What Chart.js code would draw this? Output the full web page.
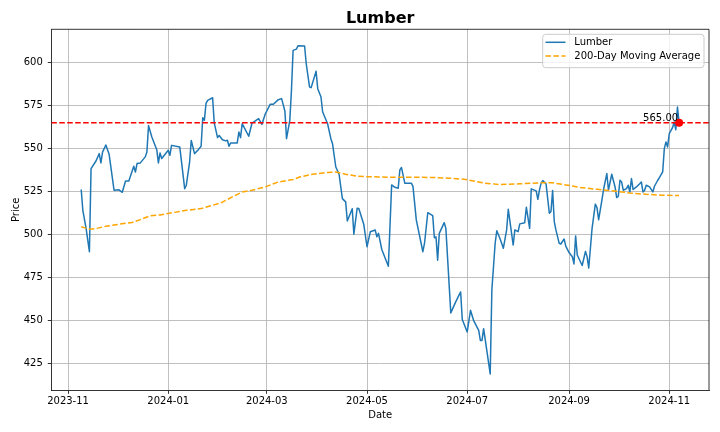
<!DOCTYPE html>
<html>
<head>
<meta charset="utf-8">
<script src="https://cdn.jsdelivr.net/npm/chart.js@4.4.1/dist/chart.umd.min.js"></script>
<style>
  html, body { margin: 0; padding: 0; background: #fff; }
  #wrap { width: 720px; height: 432px; }
</style>
</head>
<body>
<div id="wrap"><canvas id="c" width="720" height="432"></canvas></div>
<script>
const chartTitle = "Lumber";
const xAxisTitle = "Date";
const yAxisTitle = "Price";
const seriesName = "Lumber";
const maName = "200-Day Moving Average";
const currentPrice = 565.00;

const lumberDates = [
"2023-11-09","2023-11-10","2023-11-12","2023-11-14","2023-11-15","2023-11-18","2023-11-20","2023-11-21","2023-11-22","2023-11-24",
"2023-11-26","2023-11-29","2023-12-02","2023-12-04","2023-12-06","2023-12-08","2023-12-11","2023-12-12","2023-12-13","2023-12-15",
"2023-12-18","2023-12-19","2023-12-20","2023-12-22","2023-12-25","2023-12-26","2023-12-27","2023-12-28","2024-01-01","2024-01-02",
"2024-01-03","2024-01-08","2024-01-11","2024-01-12","2024-01-14","2024-01-15","2024-01-17","2024-01-19","2024-01-21","2024-01-22",
"2024-01-23","2024-01-24","2024-01-25","2024-01-28","2024-01-29","2024-01-31","2024-02-01","2024-02-03","2024-02-05","2024-02-06",
"2024-02-07","2024-02-08","2024-02-12","2024-02-13","2024-02-14","2024-02-15","2024-02-19","2024-02-21","2024-02-25","2024-02-27",
"2024-02-29","2024-03-03","2024-03-05","2024-03-08","2024-03-10","2024-03-12","2024-03-13","2024-03-15","2024-03-16","2024-03-17",
"2024-03-19","2024-03-20","2024-03-24","2024-03-25","2024-03-27","2024-03-28","2024-03-31","2024-04-01","2024-04-03","2024-04-04",
"2024-04-07","2024-04-09","2024-04-10","2024-04-12","2024-04-14","2024-04-16","2024-04-18","2024-04-19","2024-04-22","2024-04-23",
"2024-04-25","2024-04-26","2024-04-29","2024-05-01","2024-05-03","2024-05-06","2024-05-07","2024-05-08","2024-05-10","2024-05-14",
"2024-05-16","2024-05-18","2024-05-20","2024-05-21","2024-05-22","2024-05-24","2024-05-28","2024-05-29","2024-05-31","2024-06-04",
"2024-06-05","2024-06-07","2024-06-10","2024-06-11","2024-06-12","2024-06-13","2024-06-14","2024-06-17","2024-06-18","2024-06-21",
"2024-06-24","2024-06-27","2024-06-28","2024-07-01","2024-07-03","2024-07-05","2024-07-08","2024-07-09","2024-07-10","2024-07-11",
"2024-07-15","2024-07-16","2024-07-18","2024-07-19","2024-07-21","2024-07-23","2024-07-25","2024-07-26","2024-07-29","2024-07-30",
"2024-08-01","2024-08-02","2024-08-05","2024-08-06","2024-08-08","2024-08-09","2024-08-12","2024-08-13","2024-08-14","2024-08-15",
"2024-08-16","2024-08-18","2024-08-20","2024-08-21","2024-08-22","2024-08-23","2024-08-24","2024-08-26","2024-08-27","2024-08-29",
"2024-08-30","2024-09-01","2024-09-03","2024-09-04","2024-09-05","2024-09-06","2024-09-09","2024-09-11","2024-09-12","2024-09-13",
"2024-09-15","2024-09-17","2024-09-18","2024-09-19","2024-09-21","2024-09-22","2024-09-24","2024-09-25","2024-09-27","2024-09-29",
"2024-09-30","2024-10-01","2024-10-02","2024-10-03","2024-10-04","2024-10-06","2024-10-07","2024-10-08","2024-10-09","2024-10-10",
"2024-10-12","2024-10-14","2024-10-15","2024-10-16","2024-10-17","2024-10-18","2024-10-20","2024-10-22","2024-10-23","2024-10-25",
"2024-10-26","2024-10-28","2024-10-29","2024-10-30","2024-10-31","2024-11-01","2024-11-03","2024-11-04","2024-11-05","2024-11-06",
"2024-11-07"
];
const lumberPrices = [
526.2,514.1,503.5,490.0,538.4,542.8,547.1,541.7,548.0,552.1,
546.7,525.8,526.0,524.6,531.2,531.2,539.7,536.4,541.3,541.7,
545.2,548.0,563.4,556.8,549.4,541.7,547.5,544.3,549.1,546.1,
551.9,551.0,526.7,528.7,542.2,554.8,547.1,549.1,551.4,568.0,
566.5,576.4,578.1,579.6,565.0,556.4,557.6,555.2,554.5,554.9,
551.4,553.3,553.3,559.7,556.4,564.5,557.2,564.9,567.4,564.1,
570.0,575.8,575.8,578.5,579.1,571.9,555.8,566.5,583.9,607.2,
607.9,609.9,609.7,599.4,585.9,585.5,595.0,584.9,580.0,571.3,
564.5,555.8,552.9,539.3,535.1,520.9,519.0,507.9,515.0,500.2,
515.3,515.2,506.0,492.9,501.6,502.6,498.7,500.7,491.3,481.6,
528.9,527.5,527.0,537.6,539.0,529.9,529.9,527.9,508.5,490.0,
494.8,512.7,511.0,498.1,498.7,485.1,500.7,506.9,503.6,454.4,
460.8,466.6,450.5,443.3,455.9,449.7,444.2,438.4,438.4,445.2,
418.9,467.6,494.8,502.2,497.5,492.0,502.7,514.7,493.9,502.7,
501.7,506.2,506.9,515.9,503.6,526.6,525.4,520.5,526.0,529.9,
531.4,529.5,512.4,513.4,525.6,507.5,502.7,494.9,494.5,497.4,
493.3,489.5,487.1,482.9,499.2,488.1,482.0,490.2,487.0,480.5,
503.5,517.7,515.7,508.6,520.0,526.2,535.5,525.8,535.1,527.7,
521.5,522.3,531.6,530.6,525.8,526.7,528.7,524.8,532.6,526.2,
527.7,529.6,530.6,524.8,525.8,528.7,527.7,524.8,528.1,531.6,
533.1,536.4,550.0,553.9,551.0,558.7,562.2,565.5,561.0,574.2,
565.0
];

const maDates = [
"2023-11-09","2023-11-14","2023-11-18","2023-11-24","2023-12-02","2023-12-10","2023-12-15","2023-12-21","2023-12-27","2024-01-04",
"2024-01-12","2024-01-21","2024-01-28","2024-02-02","2024-02-09","2024-02-15","2024-02-21","2024-02-29","2024-03-08","2024-03-17",
"2024-03-21","2024-03-29","2024-04-06","2024-04-12","2024-04-18","2024-04-25","2024-05-01","2024-05-15","2024-05-29","2024-06-10",
"2024-06-20","2024-06-29","2024-07-11","2024-07-21","2024-08-02","2024-08-16","2024-08-22","2024-08-30","2024-09-08","2024-09-18",
"2024-09-28","2024-10-08","2024-10-18","2024-10-28","2024-11-07"
];
const maValues = [
504.5,503.1,503.5,504.8,506.0,507.0,508.7,510.9,511.4,512.8,
514.1,515.1,517.0,518.4,521.9,524.8,525.8,527.7,530.6,532.0,
533.5,535.1,536.0,536.4,535.1,533.9,533.7,533.3,533.4,533.2,
532.8,532.2,530.0,529.1,529.5,530.2,530.1,528.9,527.4,526.3,
525.4,524.2,523.4,522.9,522.7
];

const yTickValues = [425, 450, 475, 500, 525, 550, 575, 600];
const xTickDates = ["2023-11-01","2024-01-01","2024-03-01","2024-05-01","2024-07-01","2024-09-01","2024-11-01"];
const xTickLabels = ["2023-11","2024-01","2024-03","2024-05","2024-07","2024-09","2024-11"];

// ---- derived ----
const toMs = s => Date.parse(s);
const lumberPts = lumberDates.map((d, i) => ({ x: toMs(d), y: lumberPrices[i] }));
const maPts = maDates.map((d, i) => ({ x: toMs(d), y: maValues[i] }));
const allX = lumberPts.map(p => p.x).concat(maPts.map(p => p.x));
const allY = lumberPrices.concat(maValues, [currentPrice]);
const xLo = Math.min(...allX), xHi = Math.max(...allX);
const yLo = Math.min(...allY), yHi = Math.max(...allY);
const xMin = xLo - 0.05 * (xHi - xLo), xMax = xHi + 0.05 * (xHi - xLo);
const yMin = yLo - 0.05 * (yHi - yLo), yMax = yHi + 0.05 * (yHi - yLo);
const lastPt = lumberPts[lumberPts.length - 1];

const FONT = "'DejaVu Sans', 'Liberation Sans', sans-serif";
const BLUE = '#1f77b4', ORANGE = '#ffa500', RED = '#ff0000';
const DASH = [5.55, 2.4];

const decor = {
  id: 'decor',
  afterDraw(chart) {
    const ctx = chart.ctx, a = chart.chartArea;
    const xs = chart.scales.x, ys = chart.scales.y;
    ctx.save();
    // top/right spines
    ctx.strokeStyle = '#000'; ctx.lineWidth = 0.8;
    ctx.beginPath();
    ctx.moveTo(a.left, a.top); ctx.lineTo(a.right, a.top); ctx.lineTo(a.right, a.bottom);
    ctx.stroke();
    // current price label
    const px = xs.getPixelForValue(lastPt.x), py = ys.getPixelForValue(currentPrice);
    ctx.fillStyle = '#000';
    ctx.font = `10px ${FONT}`;
    ctx.textAlign = 'right'; ctx.textBaseline = 'alphabetic';
    ctx.fillText(currentPrice.toFixed(2), px - 1, py - 2.3);
    // title
    ctx.font = `bold 16px ${FONT}`;
    ctx.textAlign = 'center';
    ctx.fillText(chartTitle, (a.left + a.right) / 2, 23.3);
    // axis titles
    ctx.font = `10px ${FONT}`;
    ctx.textBaseline = 'middle';
    ctx.fillText(xAxisTitle, (a.left + a.right) / 2, 415);
    ctx.save();
    ctx.translate(16, (a.top + a.bottom) / 2);
    ctx.rotate(-Math.PI / 2);
    ctx.fillText(yAxisTitle, 0, 0);
    ctx.restore();
    // legend
    const lx = 542.7, ly = 34.3, lw = 161.3, lh = 33.4, r = 3;
    ctx.beginPath();
    ctx.moveTo(lx + r, ly); ctx.lineTo(lx + lw - r, ly); ctx.arcTo(lx + lw, ly, lx + lw, ly + r, r);
    ctx.lineTo(lx + lw, ly + lh - r); ctx.arcTo(lx + lw, ly + lh, lx + lw - r, ly + lh, r);
    ctx.lineTo(lx + r, ly + lh); ctx.arcTo(lx, ly + lh, lx, ly + lh - r, r);
    ctx.lineTo(lx, ly + r); ctx.arcTo(lx, ly, lx + r, ly, r);
    ctx.closePath();
    ctx.fillStyle = 'rgba(255,255,255,0.8)'; ctx.fill();
    ctx.strokeStyle = '#cccccc'; ctx.lineWidth = 1; ctx.stroke();
    const rows = [
      { label: seriesName, color: BLUE, dash: [], y: 42.3 },
      { label: maName, color: ORANGE, dash: DASH, y: 56.0 }
    ];
    rows.forEach(rw => {
      ctx.strokeStyle = rw.color; ctx.lineWidth = 1.5; ctx.setLineDash(rw.dash);
      ctx.beginPath(); ctx.moveTo(545.5, rw.y); ctx.lineTo(565.5, rw.y); ctx.stroke();
      ctx.setLineDash([]);
      ctx.fillStyle = '#000'; ctx.textAlign = 'left'; ctx.textBaseline = 'middle';
      ctx.font = `10px ${FONT}`;
      ctx.fillText(rw.label, 574.3, rw.y + 0.3);
    });
    ctx.restore();
  }
};

new Chart(document.getElementById('c'), {
  type: 'line',
  data: {
    datasets: [
      { label: 'Current', data: [{ x: lastPt.x, y: currentPrice }], showLine: false,
        pointRadius: 4, pointBackgroundColor: RED, pointBorderWidth: 0, borderColor: RED },
      { label: 'Current Price Line', data: [{ x: xMin, y: currentPrice }, { x: xMax, y: currentPrice }],
        borderColor: RED, borderWidth: 1.5, borderDash: DASH, pointRadius: 0, tension: 0 },
      { label: maName, data: maPts, borderColor: ORANGE, borderWidth: 1.5, borderDash: DASH,
        pointRadius: 0, tension: 0, fill: false },
      { label: seriesName, data: lumberPts, borderColor: BLUE, borderWidth: 1.5,
        pointRadius: 0, tension: 0, fill: false, borderJoinStyle: 'round' }
    ]
  },
  options: {
    responsive: false,
    animation: false,
    devicePixelRatio: 1,
    layout: { padding: { top: 29.3, right: 11, left: 0, bottom: 0 } },
    plugins: { legend: { display: false }, tooltip: { enabled: false }, title: { display: false } },
    scales: {
      x: {
        type: 'linear', min: xMin, max: xMax,
        afterFit: s => { s.height = 41.7; },
        afterBuildTicks: s => { s.ticks = xTickDates.map(d => ({ value: toMs(d) })); },
        ticks: {
          autoSkip: false, maxRotation: 0, padding: 2,
          color: '#000', font: { family: FONT, size: 10 },
          callback: (v) => { const i = xTickDates.findIndex(d => toMs(d) === v); return i >= 0 ? xTickLabels[i] : ''; }
        },
        grid: { color: '#b0b0b0', lineWidth: 0.8, drawTicks: true, tickLength: 3.5, tickColor: '#000', tickWidth: 0.8 },
        border: { display: true, color: '#000', width: 0.8 }
      },
      y: {
        type: 'linear', min: yMin, max: yMax,
        afterFit: s => { s.width = 51.3; },
        afterBuildTicks: s => { s.ticks = yTickValues.map(v => ({ value: v })); },
        ticks: {
          padding: 5, color: '#000', font: { family: FONT, size: 10 },
          callback: v => String(v)
        },
        grid: { color: '#b0b0b0', lineWidth: 0.8, drawTicks: true, tickLength: 3.5, tickColor: '#000', tickWidth: 0.8 },
        border: { display: true, color: '#000', width: 0.8 }
      }
    }
  },
  plugins: [decor]
});
</script>
</body>
</html>
